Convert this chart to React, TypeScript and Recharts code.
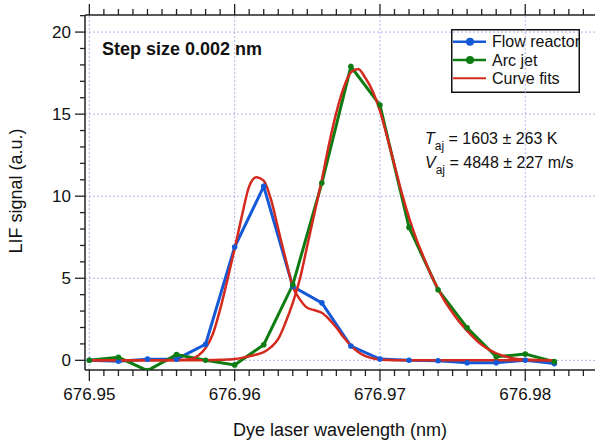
import { LineChart, Line, XAxis, YAxis, ReferenceLine, Customized } from 'recharts'

// measured points, 0.002 nm steps
const stepWavelength = [
  676.95, 676.952, 676.954, 676.956, 676.958, 676.96, 676.962, 676.964, 676.966,
  676.968, 676.97, 676.972, 676.974, 676.976, 676.978, 676.98, 676.982,
]
const flowReactor = [0, -0.05, 0.07, 0.07, 0.98, 6.9, 10.6, 4.5, 3.5, 0.87, 0.08, 0, -0.03, -0.15, -0.15, 0, -0.2]
const arcJet = [0, 0.18, -0.63, 0.35, 0, -0.28, 0.95, 4.6, 10.8, 17.9, 15.55, 8.1, 4.3, 1.98, 0.22, 0.38, -0.08]

// curve fits
const fitWavelength = [
  676.95, 676.952, 676.954, 676.956, 676.957, 676.9575, 676.958, 676.9585, 676.959, 676.9595,
  676.96, 676.9605, 676.961, 676.9615, 676.962, 676.9625, 676.963, 676.9635, 676.964, 676.9645,
  676.965, 676.9655, 676.966, 676.9665, 676.967, 676.9675, 676.968, 676.9685, 676.969, 676.9695,
  676.97, 676.9705, 676.971, 676.9715, 676.972, 676.9725, 676.973, 676.9735, 676.974, 676.9745,
  676.975, 676.9755, 676.976, 676.977, 676.978, 676.979, 676.98, 676.982,
]
const flowFit = [
  0, 0, 0, 0.02, 0.08, 0.3, 0.75, 1.6, 3.1, 4.9,
  6.8, 8.8, 10.6, 11.15, 10.95, 9.8, 8.0, 6.2, 4.5, 3.7,
  3.2, 3.05, 2.9, 2.5, 2.0, 1.4, 0.9, 0.5, 0.25, 0.12,
  0.05, 0.02, 0, 0, 0, 0, 0, 0, 0, 0,
  0, 0, 0, 0, 0, 0, 0, 0,
]
const arcFit = [
  0, 0, 0, 0, 0, 0, 0.01, 0.02, 0.03, 0.05,
  0.08, 0.15, 0.25, 0.35, 0.5, 0.8, 1.3, 2.3, 3.5, 5.0,
  7.0, 9.0, 11.0, 13.2, 15.1, 16.6, 17.55, 17.75, 17.2, 16.4,
  15.2, 13.6, 11.9, 10.2, 8.7, 7.4, 6.3, 5.25, 4.35, 3.55,
  2.9, 2.3, 1.8, 0.95, 0.42, 0.15, 0.05, 0,
]

const xMajorTicks = [676.95, 676.96, 676.97, 676.98]
const yMajorTicks = [0, 5, 10, 15, 20]
const xMinorTicks = Array.from({ length: 35 }, (_, i) => Math.round((676.95 + i * 0.001) * 1000) / 1000)
const yMinorTicks = Array.from({ length: 22 }, (_, i) => i)

const BLUE = '#1559d6'
const GREEN = '#0e7c12'
const RED = '#d42a1e'
const GRID = '#b4b4ec'
const AXIS = '#222'
const FONT = '"Liberation Sans", Arial, sans-serif'

const flowData = stepWavelength.map((x, i) => ({ x, y: flowReactor[i] }))
const arcData = stepWavelength.map((x, i) => ({ x, y: arcJet[i] }))
const flowFitData = fitWavelength.map((x, i) => ({ x, y: flowFit[i] }))
const arcFitData = fitWavelength.map((x, i) => ({ x, y: arcFit[i] }))

const isMajorX = (v: number) => xMajorTicks.some((t) => Math.abs(t - v) < 1e-6)

function BottomTick(props: any) {
  const { x, y, payload } = props
  const major = isMajorX(payload.value)
  return (
    <g>
      <line x1={x} x2={x} y1={y} y2={y + (major ? 11 : 6)} stroke={AXIS} strokeWidth={1.3} />
      {major && (
        <text x={x} y={y + 30} textAnchor="middle" fontSize={17} fontFamily={FONT} fill="#111">
          {payload.value.toFixed(2)}
        </text>
      )}
    </g>
  )
}

function TopTick(props: any) {
  const { x, y, payload } = props
  const major = isMajorX(payload.value)
  return <line x1={x} x2={x} y1={y} y2={y - (major ? 11 : 6)} stroke={AXIS} strokeWidth={1.3} />
}

function LeftTick(props: any) {
  const { x, y, payload } = props
  const major = yMajorTicks.includes(payload.value)
  return (
    <g>
      <line x1={x - (major ? 10 : 5)} x2={x} y1={y} y2={y} stroke={AXIS} strokeWidth={1.3} />
      {major && (
        <text x={x - 14} y={y + 6} textAnchor="end" fontSize={17} fontFamily={FONT} fill="#111">
          {payload.value}
        </text>
      )}
    </g>
  )
}

const legendItems = [
  { label: 'Flow reactor', color: BLUE, dot: true },
  { label: 'Arc jet', color: GREEN, dot: true },
  { label: 'Curve fits', color: RED, dot: false },
]

function LegendBox() {
  return (
    <g transform="translate(451 29)">
      <rect x={0.75} y={0.75} width={127.5} height={62.5} fill="#fff" stroke="#111" strokeWidth={1.5} />
      {legendItems.map((it, i) => {
        const cy = 12.7 + i * 18.3
        return (
          <g key={it.label}>
            <line x1={2} x2={35} y1={cy} y2={cy} stroke={it.color} strokeWidth={it.dot ? 2.5 : 2} />
            {it.dot && <circle cx={19} cy={cy} r={4} fill={it.color} />}
            <text x={41} y={cy + 5.5} fontSize={16} fontFamily={FONT} fill="#111">
              {it.label}
            </text>
          </g>
        )
      })}
    </g>
  )
}

function Annotations() {
  return (
    <g fontFamily={FONT} fill="#111">
      <text x={102} y={55} fontSize={18} fontWeight="bold">
        Step size 0.002 nm
      </text>
      <text x={425} y={144} fontSize={16}>
        <tspan fontStyle="italic">T</tspan>
        <tspan fontSize={12} dy={6}>aj</tspan>
        <tspan dy={-6}> = 1603 ± 263 K</tspan>
      </text>
      <text x={425} y={168} fontSize={16}>
        <tspan fontStyle="italic">V</tspan>
        <tspan fontSize={12} dy={6}>aj</tspan>
        <tspan dy={-6}> = 4848 ± 227 m/s</tspan>
      </text>
      <text x={22} y={191} fontSize={18} textAnchor="middle" transform="rotate(-90 22 191)">
        LIF signal (a.u.)
      </text>
      <text x={340} y={436} fontSize={18} textAnchor="middle">
        Dye laser wavelength (nm)
      </text>
      <LegendBox />
    </g>
  )
}

export default function App() {
  return (
    <div style={{ position: 'absolute', left: 0, top: 0, background: '#fff' }}>
      <LineChart width={595} height={442} margin={{ top: 0, right: 0, left: 0, bottom: 0 }}>
        <XAxis
          xAxisId="bottom"
          type="number"
          dataKey="x"
          domain={[676.9497, 676.9848]}
          allowDataOverflow
          ticks={xMinorTicks}
          interval={0}
          tickSize={0}
          tickMargin={0}
          tick={<BottomTick />}
          height={72}
          axisLine={{ stroke: AXIS, strokeWidth: 1.5 }}
          tickLine={false}
        />
        <XAxis
          xAxisId="top"
          orientation="top"
          type="number"
          dataKey="x"
          domain={[676.9497, 676.9848]}
          allowDataOverflow
          ticks={xMinorTicks}
          interval={0}
          tickSize={0}
          tickMargin={0}
          tick={<TopTick />}
          height={15}
          axisLine={{ stroke: AXIS, strokeWidth: 1.5 }}
          tickLine={false}
        />
        <YAxis
          type="number"
          domain={[-0.59, 21.04]}
          allowDataOverflow
          ticks={yMinorTicks}
          interval={0}
          tickSize={0}
          tickMargin={0}
          tick={<LeftTick />}
          width={85}
          axisLine={{ stroke: AXIS, strokeWidth: 1.5 }}
          tickLine={false}
        />
        {xMajorTicks.map((v) => (
          <ReferenceLine key={'gx' + v} xAxisId="bottom" x={v} stroke={GRID} strokeDasharray="2 2" />
        ))}
        {yMajorTicks.map((v) => (
          <ReferenceLine key={'gy' + v} xAxisId="bottom" y={v} stroke={GRID} strokeDasharray="2 2" />
        ))}
        <Line
          xAxisId="bottom"
          data={flowData}
          dataKey="y"
          type="linear"
          stroke={BLUE}
          strokeWidth={3}
          dot={{ r: 2.8, fill: BLUE, stroke: BLUE, strokeWidth: 0 }}
          isAnimationActive={false}
        />
        <Line
          xAxisId="bottom"
          data={arcData}
          dataKey="y"
          type="linear"
          stroke={GREEN}
          strokeWidth={3}
          dot={{ r: 2.8, fill: GREEN, stroke: GREEN, strokeWidth: 0 }}
          isAnimationActive={false}
        />
        <Line
          xAxisId="bottom"
          data={flowFitData}
          dataKey="y"
          type="monotone"
          stroke={RED}
          strokeWidth={2.5}
          dot={false}
          isAnimationActive={false}
        />
        <Line
          xAxisId="bottom"
          data={arcFitData}
          dataKey="y"
          type="monotone"
          stroke={RED}
          strokeWidth={2.5}
          dot={false}
          isAnimationActive={false}
        />
        <Customized component={Annotations} />
      </LineChart>
    </div>
  )
}
